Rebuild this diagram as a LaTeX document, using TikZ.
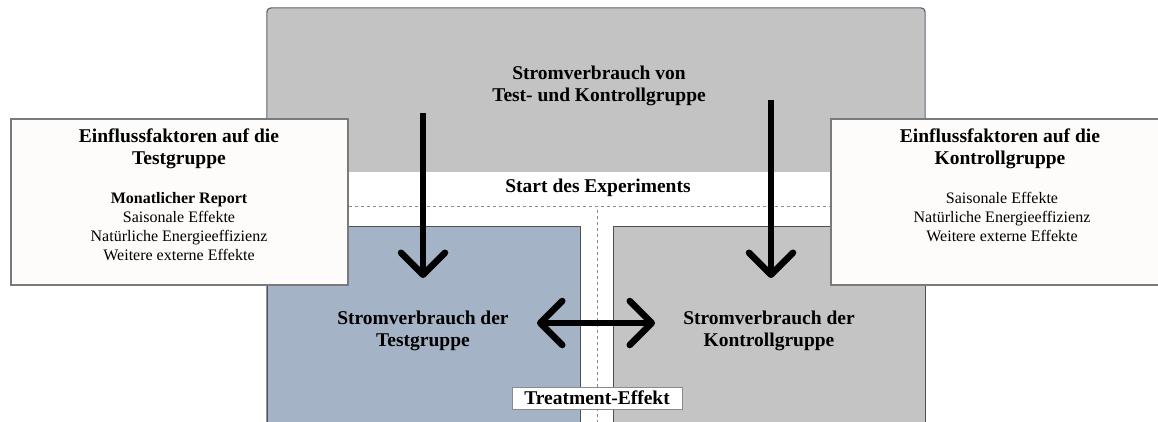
\documentclass[tikz,border=0pt]{standalone}
\usepackage{fontspec}
\setmainfont{Liberation Serif}
\usetikzlibrary{arrows.meta}
\definecolor{topgray}{HTML}{C3C3C3}
\definecolor{konfill}{HTML}{C4C4C4}
\definecolor{testfill}{HTML}{A5B3C6}
\definecolor{outerline}{HTML}{55606C}
\definecolor{regline}{HTML}{505050}
\definecolor{sideline}{HTML}{7A7A7A}
\definecolor{sidefill}{HTML}{FDFCFB}
\definecolor{dashc}{HTML}{8A8A8A}
\tikzset{
  region/.style={draw=regline, line width=1.2, anchor=north west, inner sep=0pt},
  sidebox/.style={draw=sideline, fill=sidefill, line width=1.8, anchor=north west, inner sep=0pt, minimum height=166},
  headtxt/.style={align=center, inner sep=0pt, font=\fontsize{19.5}{22}\selectfont\bfseries},
  itemtxt/.style={align=center, inner sep=0pt, font=\fontsize{16}{19}\selectfont},
  dashline/.style={draw=dashc, line width=1, dash pattern=on 3pt off 3pt},
  bigarrow/.style={line width=6.5, -{Straight Barb[length=22pt, width=44pt, round]}},
  dblarrow/.style={line width=6.5, {Straight Barb[length=22pt, width=44pt, round]}-{Straight Barb[length=22pt, width=44pt, round]}},
}
\begin{document}
\begin{tikzpicture}[x=1pt,y=-1pt]
\useasboundingbox (0,0) rectangle (1158,422);
\clip (0,0) rectangle (1158,422);
% outer frame
\draw[draw=outerline, line width=1.4, fill=white, rounded corners=4] (267,8) rectangle (925,470);
\fill[topgray] (267.7,172) [rounded corners=3.3] -- (267.7,8.7) -- (924.3,8.7) [sharp corners] -- (924.3,172) -- cycle;
\node[headtxt] (title) at (599,86) {Stromverbrauch von\\Test- und Kontrollgruppe};
% lower regions
\node[region, fill=testfill, minimum width=313, minimum height=240] (testreg) at (267,226) {};
\node[region, fill=konfill, minimum width=312, minimum height=240] (konreg) at (613,226) {};
% side boxes
\node[sidebox, minimum width=337] (leftbox) at (10,118) {};
\node[sidebox, minimum width=345] (rightbox) at (830,118) {};
\node[headtxt] (lhead) at (179,149) {Einflussfaktoren auf die\\Testgruppe};
\node[itemtxt] (litems) at (179,226.5) {\textbf{Monatlicher Report}\\Saisonale Effekte\\Natürliche Energieeffizienz\\Weitere externe Effekte};
\node[headtxt] (rhead) at (1000,149) {Einflussfaktoren auf die\\Kontrollgruppe};
\node[itemtxt] (ritems) at (1002,217) {Saisonale Effekte\\Natürliche Energieeffizienz\\Weitere externe Effekte};
% start line
\node[headtxt] (start) at (598,188) {Start des Experiments};
\coordinate (dy) at (0,206);
\draw[dashline] (leftbox.east |- dy) -- (rightbox.west |- dy);
\coordinate (vtop) at (597,210);
\coordinate (vbot) at (597,422);
\draw[dashline] (vtop) -- (vbot);
% group texts
\node[headtxt] (testtxt) at (423,331) {Stromverbrauch der\\Testgruppe};
\node[headtxt] (kontxt) at (769,331) {Stromverbrauch der\\Kontrollgruppe};
\node[draw=dashc, line width=1, fill=white, minimum width=170, minimum height=22, inner sep=0pt, font=\fontsize{19.5}{22}\selectfont\bfseries] (treat) at (597,398) {Treatment-Effekt};
% arrows
\coordinate (a1s) at (423,113);
\coordinate (a1e) at (423,278);
\coordinate (a2s) at (771,100);
\coordinate (a2e) at (771,278);
\draw[bigarrow] (a1s) -- (a1e);
\draw[bigarrow] (a2s) -- (a2e);
\coordinate (hl) at (537,323);
\coordinate (hr) at (655,323);
\draw[dblarrow] (hl) -- (hr);
\end{tikzpicture}
\end{document}
